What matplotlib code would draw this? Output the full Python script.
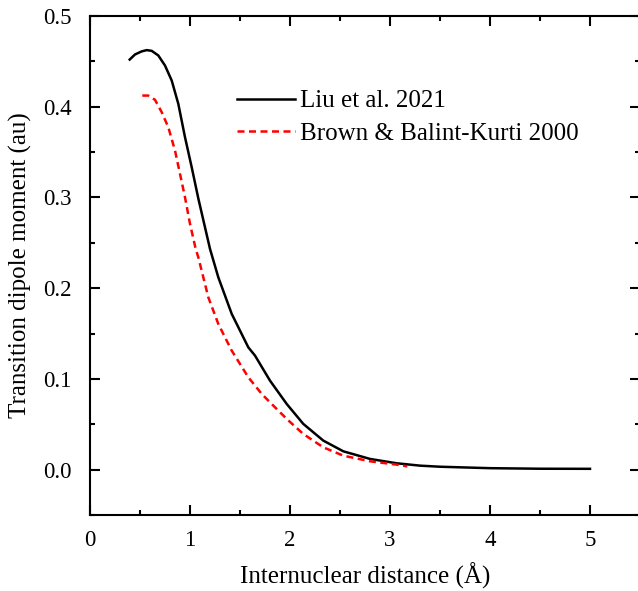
import matplotlib
matplotlib.use("Agg")
import matplotlib.pyplot as plt
from matplotlib.ticker import MultipleLocator, FormatStrFormatter

plt.rcParams['font.family'] = ['Liberation Serif', 'DejaVu Serif']

# Liu et al. 2021
liu_r = [0.397, 0.45, 0.517, 0.567, 0.617, 0.683, 0.75, 0.817, 0.883, 0.95,
         1.017, 1.083, 1.15, 1.20, 1.283, 1.417, 1.583, 1.65, 1.80, 1.967,
         2.133, 2.333, 2.533, 2.80, 3.067, 3.30, 3.50, 4.00, 4.50, 5.00]
liu_tdm = [0.452, 0.4576, 0.461, 0.4624, 0.4616, 0.4565, 0.4454, 0.4289,
           0.4032, 0.3664, 0.3333, 0.2990, 0.2671, 0.2433, 0.212, 0.1717,
           0.1348, 0.1257, 0.0981, 0.0724, 0.0504, 0.032, 0.0202, 0.0118,
           0.0070, 0.0044, 0.0032, 0.0016, 0.0010, 0.0009]

# Brown & Balint-Kurti 2000
bbk_r = [0.523, 0.583, 0.65, 0.717, 0.783, 0.85, 0.90, 0.95, 1.0, 1.057,
         1.083, 1.183, 1.283, 1.417, 1.583, 1.717, 1.80, 1.967, 2.133, 2.333,
         2.533, 2.80, 3.067, 3.173]
bbk_tdm = [0.4123, 0.4123, 0.4076, 0.394, 0.3774, 0.3517, 0.326, 0.3002,
           0.2709, 0.2433, 0.2341, 0.19, 0.1606, 0.1312, 0.1018, 0.0835,
           0.0742, 0.0559, 0.0393, 0.0246, 0.0154, 0.0092, 0.0055, 0.0036]

fig = plt.figure(figsize=(6.38, 5.91), dpi=100)
ax = fig.add_axes([90 / 638, 76 / 591, 550 / 638, 499 / 591])

ax.plot(liu_r, liu_tdm, color='black', lw=1.8, label='Liu et al. 2021')
ax.plot(bbk_r, bbk_tdm, color='red', lw=1.8, dashes=(2.8, 1.8),
        label='Brown & Balint-Kurti 2000')

ax.set_xlim(0, 5.5)
ax.set_ylim(-0.05, 0.5)
ax.xaxis.set_major_locator(MultipleLocator(1))
ax.xaxis.set_minor_locator(MultipleLocator(0.5))
ax.yaxis.set_major_locator(MultipleLocator(0.1))
ax.yaxis.set_minor_locator(MultipleLocator(0.05))
ax.yaxis.set_major_formatter(FormatStrFormatter('%.1f'))

ax.tick_params(which='both', direction='in', top=True, right=True,
               width=1.5, labelsize=16.5)
ax.tick_params(axis='x', pad=10.5)
ax.tick_params(axis='y', pad=13)
ax.tick_params(which='major', length=7)
ax.tick_params(which='minor', length=3.6)
for s in ax.spines.values():
    s.set_linewidth(1.5)

ax.set_xlabel('Internuclear distance (Å)', fontsize=18, labelpad=9)
ax.set_ylabel('Transition dipole moment (au)', fontsize=18, labelpad=8)

ax.legend(loc='upper left', bbox_to_anchor=(0.25, 0.872), frameon=False,
          fontsize=18, handlelength=2.3, handletextpad=0.2,
          labelspacing=0.4, borderaxespad=0)

fig.savefig('out.png', dpi=100)
